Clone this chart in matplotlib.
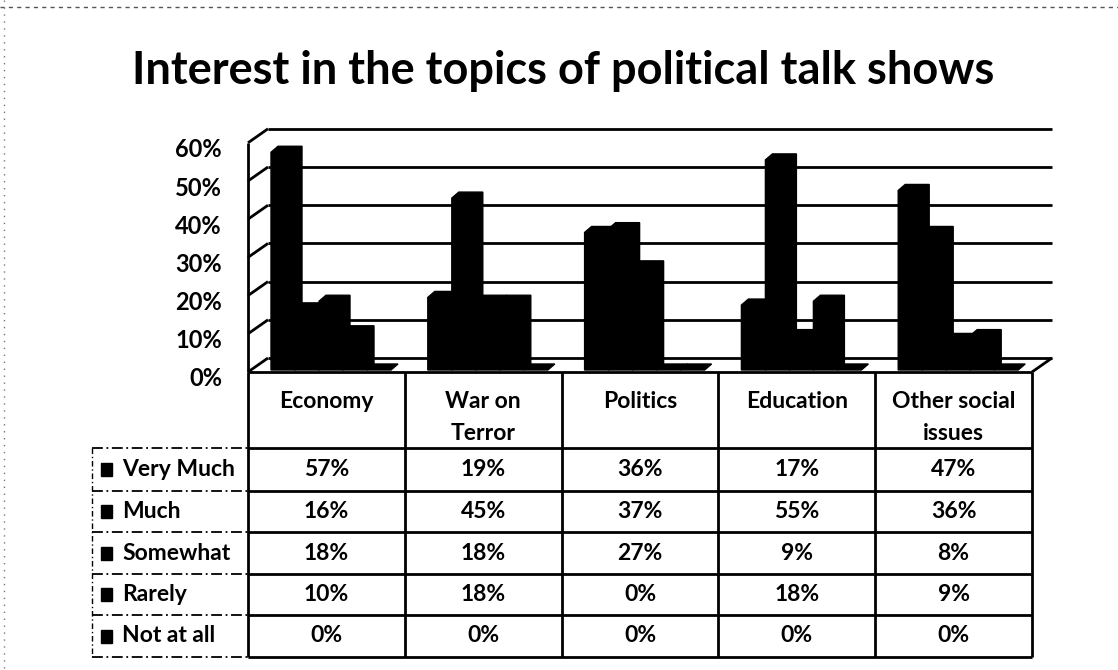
import matplotlib
matplotlib.use("Agg")
import matplotlib.pyplot as plt
from matplotlib.patches import Polygon, Rectangle
from matplotlib import transforms

# ---- data -------------------------------------------------------------
categories = ["Economy", "War on\nTerror", "Politics", "Education", "Other social\nissues"]
series_names = ["Very Much", "Much", "Somewhat", "Rarely", "Not at all"]
very_much = [57, 19, 36, 17, 47]
much = [16, 45, 37, 55, 36]
somewhat = [18, 18, 27, 9, 8]
rarely = [10, 18, 0, 18, 9]
not_at_all = [0, 0, 0, 0, 0]
series = [very_much, much, somewhat, rarely, not_at_all]
y_ticks = [0, 10, 20, 30, 40, 50, 60]
title = "Interest in the topics of political talk shows"

# ---- figure / layout ---------------------------------------------------
W, H = 1118, 670
FONT = ["Lato", "DejaVu Sans"]
plt.rcParams["font.family"] = FONT

fig = plt.figure(figsize=(W / 100, H / 100), dpi=100)
fig.patch.set_facecolor("white")

# overlay axes in pixel units (frame, title and data table)
ov = fig.add_axes([0, 0, 1, 1])
ov.set_xlim(0, W)
ov.set_ylim(H, 0)
ov.axis("off")

# front plane of the 3-D plot box
FX0, CAT_W, FY0, UNIT = 248, 156.8, 372, 3.82   # UNIT = pixels per 1 %
ax = fig.add_axes([FX0 / W, (H - FY0) / H, 5 * CAT_W / W, 60 * UNIT / H])
ax.set_xlim(0, 5)
ax.set_ylim(0, 60)
ax.axis("off")
ax.patch.set_alpha(0)

DX, DY = 20, 14          # depth of the plot box (pixels, right / up)
BX, BY = 3, 2            # plane of the bars, measured from the front
BDX, BDY = 7, 6          # depth of a single bar
BAR_W = 24 / CAT_W
BAR_PAD = 20 / CAT_W


def shift(x, y, dx, dy):
    """Data point (x, y) moved by (dx, dy) display pixels, in data units."""
    X, Y = ax.transData.transform((x, y))
    return tuple(ax.transData.inverted().transform((X + dx, Y + dy)))


LINE = dict(color="black", lw=2.0, solid_capstyle="butt", clip_on=False)

# back wall gridlines
for t in y_ticks:
    p0, p1 = shift(0, t, DX, DY), shift(5, t, DX, DY)
    ax.plot([p0[0], p1[0]], [p0[1], p1[1]], **LINE)
# side wall: front edge and diagonals to the back wall
ax.plot([0, 0], [0, 60], **LINE)
for t in y_ticks:
    p = shift(0, t, DX, DY)
    ax.plot([0, p[0]], [t, p[1]], **LINE)
# floor: front edge and right diagonal
p = shift(5, 0, DX, DY)
ax.plot([0, 5], [0, 0], **LINE)
ax.plot([5, p[0]], [0, p[1]], **LINE)

# y tick labels
lab_tr = transforms.offset_copy(ax.transData, fig, x=-26, y=-7, units="dots")
for t in y_ticks:
    ax.text(0, t, f"{t}%", transform=lab_tr, ha="right", va="center",
            fontsize=17, fontweight="bold", color="black")

# 3-D columns (front face + top + side as one silhouette)
for i in range(len(categories)):
    for j, vals in enumerate(series):
        v = vals[i]
        x0 = i + BAR_PAD + j * BAR_W
        x1 = x0 + BAR_W
        pts = [shift(x0, 0, BX, BY), shift(x0, v, BX, BY),
               shift(x0, v, BX + BDX, BY + BDY), shift(x1, v, BX + BDX, BY + BDY),
               shift(x1, 0, BX + BDX, BY + BDY), shift(x1, 0, BX, BY)]
        ax.add_patch(Polygon(pts, closed=True, fc="black", ec="black",
                             lw=1.0, clip_on=False, zorder=3))

# ---- title ---------------------------------------------------------------
ov.text(563, 71, title, ha="center", va="center", fontsize=32.5,
        fontweight="bold", color="black")

# ---- data table ------------------------------------------------------------
col_x = [FX0 + CAT_W * k for k in range(6)]
row_y = [372, 448, 491, 532, 574, 615, 657]
LEG_X = 92
TL = dict(color="black", lw=2.0, solid_capstyle="butt")

for x in col_x:
    ov.plot([x, x], [row_y[0], row_y[-1]], **TL)
for y in row_y[1:]:
    ov.plot([col_x[0], col_x[-1]], [y, y], **TL)
    ov.plot([LEG_X, col_x[0]], [y, y], color="black", lw=1.3,
            ls=(0, (6, 2, 1, 2)))
ov.plot([LEG_X, LEG_X], [row_y[1], row_y[-1]], color="black", lw=1.0,
        ls=(0, (4, 2, 1, 2)))

TXT = dict(fontsize=16.5, fontweight="bold", color="black")
for k, name in enumerate(categories):
    cx = (col_x[k] + col_x[k + 1]) / 2
    for li, line in enumerate(name.split("\n")):
        ov.text(cx, 401 + 32 * li, line, ha="center", va="center", **TXT)

for r, (name, vals) in enumerate(zip(series_names, series)):
    cy = (row_y[r + 1] + row_y[r + 2]) / 2
    ov.add_patch(Rectangle((101, cy - 6.5), 11, 13, fc="black", ec="black"))
    ov.text(122, cy, name, ha="left", va="center", **TXT)
    for k, v in enumerate(vals):
        cx = (col_x[k] + col_x[k + 1]) / 2
        ov.text(cx, cy, f"{v}%", ha="center", va="center", **TXT)

# outer chart frame (top and left edges)
ov.plot([0, W], [7, 7], color="#555555", lw=1.0, ls=(0, (3, 3)))
ov.plot([4, 4], [0, H], color="#777777", lw=1.0, ls=(0, (1, 4)))

fig.savefig("out.png", dpi=100, facecolor="white")
